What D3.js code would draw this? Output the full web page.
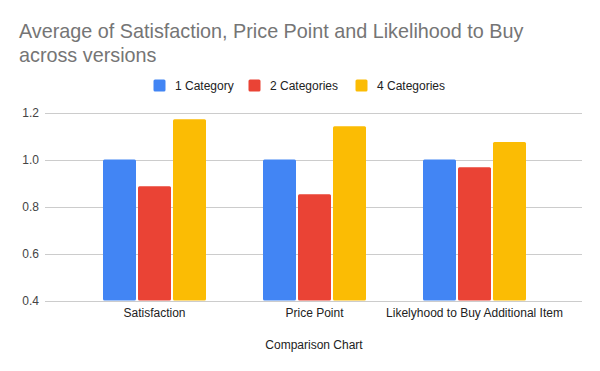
<!DOCTYPE html>
<html>
<head>
<meta charset="utf-8">
<script src="https://cdn.jsdelivr.net/npm/d3@7"></script>
<style>
  body { margin: 0; background: #fff; }
  text { font-family: "Liberation Sans", Arial, sans-serif; }
</style>
</head>
<body>
<div id="chart"></div>
<script>
// chart data
const categories = ['Satisfaction', 'Price Point', 'Likelyhood to Buy Additional Item']
const seriesNames = ['1 Category', '2 Categories', '4 Categories']
const oneCategory = [1.0, 1.0, 1.0]
const twoCategories = [0.886, 0.852, 0.967]
const fourCategories = [1.171, 1.142, 1.074]
const yTicks = [0.4, 0.6, 0.8, 1.0, 1.2]
const colors = ['#4285f4', '#ea4335', '#fbbc04']

const svgWidth = 600
const svgHeight = 371

const svg = d3.select('#chart')
    .append('svg')
    .attr('width', svgWidth)
    .attr('height', svgHeight)

const seriesValues = [oneCategory, twoCategories, fourCategories]
const rows = categories.map((c, i) => ({
    category: c,
    values: seriesNames.map((s, j) => ({ series: s, value: seriesValues[j][i] }))
}))

// scales
const y = d3.scaleLinear()
    .domain([0.4, 1.2])
    .range([300.5, 112.5])

const x0 = d3.scaleBand()
    .domain(categories)
    .range([74.5, 554.5])
    .paddingInner(57 / 160)
    .paddingOuter(57 / 320)

const x1 = d3.scaleBand()
    .domain(seriesNames)
    .range([0, x0.bandwidth()])
    .paddingInner(2 / 35)

const color = d3.scaleOrdinal()
    .domain(seriesNames)
    .range(colors)

// gridlines
svg.append('g')
    .selectAll('line')
    .data(yTicks)
    .join('line')
    .attr('x1', 45)
    .attr('x2', 582)
    .attr('y1', d => Math.round(y(d)) + 0.5)
    .attr('y2', d => Math.round(y(d)) + 0.5)
    .attr('stroke', '#cccccc')
    .attr('stroke-width', 1)

// y labels
svg.append('g')
    .selectAll('text')
    .data(yTicks)
    .join('text')
    .attr('x', 39)
    .attr('y', d => y(d) + 4.5)
    .attr('text-anchor', 'end')
    .attr('font-size', 12)
    .attr('fill', '#444')
    .text(d => d3.format('.1f')(d))

// bars
svg.append('g')
    .selectAll('g')
    .data(rows)
    .join('g')
    .attr('transform', d => `translate(${x0(d.category)},0)`)
    .selectAll('rect')
    .data(d => d.values)
    .join('rect')
    .attr('x', d => x1(d.series))
    .attr('y', d => y(d.value))
    .attr('width', x1.bandwidth())
    .attr('height', d => y(0.4) - y(d.value))
    .attr('rx', 1.5)
    .attr('fill', d => color(d.series))

// x labels
svg.append('g')
    .selectAll('text')
    .data(categories)
    .join('text')
    .attr('x', d => x0(d) + x0.bandwidth() / 2)
    .attr('y', 317)
    .attr('text-anchor', 'middle')
    .attr('font-size', 12)
    .attr('fill', '#222')
    .text(d => d)

// axis title
svg.append('text')
    .attr('x', 314)
    .attr('y', 349)
    .attr('text-anchor', 'middle')
    .attr('font-size', 12)
    .attr('fill', '#222')
    .text('Comparison Chart')

// chart title
svg.append('text')
    .attr('x', 19)
    .attr('y', 38)
    .attr('font-size', 19.8)
    .attr('fill', '#757575')
    .text('Average of Satisfaction, Price Point and Likelihood to Buy')

svg.append('text')
    .attr('x', 19)
    .attr('y', 62)
    .attr('font-size', 19.8)
    .attr('fill', '#757575')
    .text('across versions')

// legend
const legendX = [153.5, 248.5, 355.5]
const legend = svg.append('g')
    .selectAll('g')
    .data(seriesNames)
    .join('g')
    .attr('transform', (d, i) => `translate(${legendX[i]},79.5)`)

legend.append('rect')
    .attr('width', 12)
    .attr('height', 12)
    .attr('rx', 1.5)
    .attr('fill', d => color(d))

legend.append('text')
    .attr('x', 21.5)
    .attr('y', 10.5)
    .attr('font-size', 12)
    .attr('fill', '#222')
    .text(d => d)
</script>
</body>
</html>
